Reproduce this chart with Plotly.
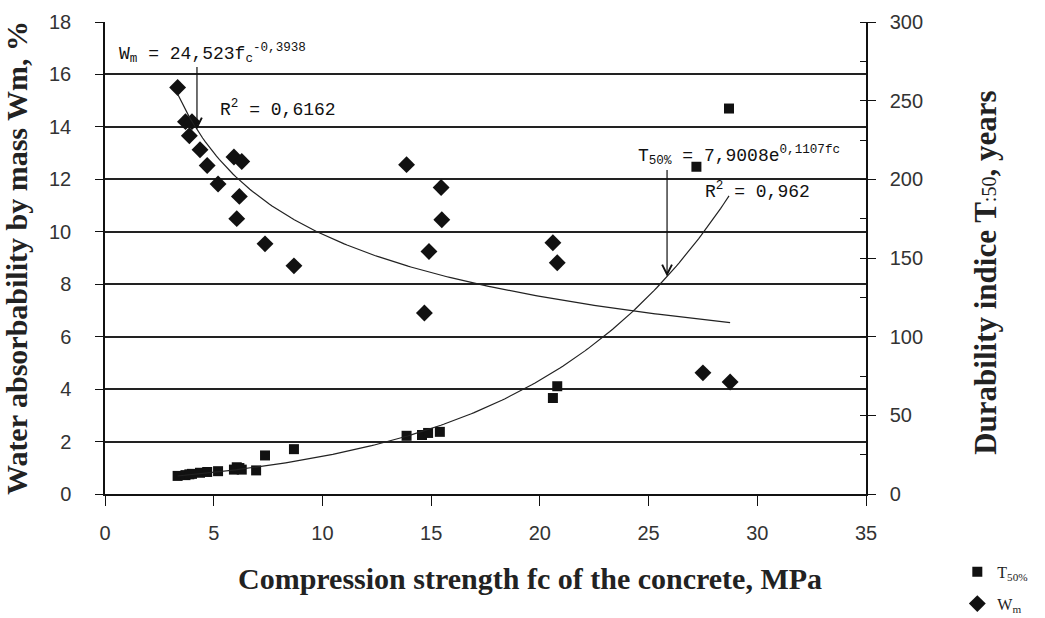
import numpy as np
import plotly.graph_objects as go

# ---------------- data ----------------
W_fc = [3.34, 3.70, 4.00, 3.88, 4.37, 4.70, 5.20, 5.93, 6.29, 6.18, 6.06,
        7.36, 8.69, 13.87, 15.46, 15.49, 14.90, 14.69, 20.60, 20.80, 27.50, 28.75]
W_val = [15.5, 14.2, 14.2, 13.66, 13.13, 12.53, 11.82, 12.85, 12.68, 11.35, 10.5,
         9.54, 8.70, 12.56, 11.69, 10.46, 9.25, 6.9, 9.58, 8.82, 4.62, 4.27]

T_fc = [3.34, 3.70, 3.88, 4.00, 4.37, 4.70, 5.20, 5.93, 6.06, 6.18, 6.29,
        6.95, 7.36, 8.69, 13.87, 14.58, 14.86, 15.40, 20.60, 20.80, 27.20, 28.70]
T_val = [11.5, 12.0, 12.5, 12.8, 13.5, 14.0, 14.5, 15.5, 17.0, 16.5, 15.5,
         15.0, 24.5, 28.5, 37.0, 37.5, 38.8, 39.5, 61.0, 68.5, 208.0, 245.0]

# trendline coefficients shown on the chart
W_a, W_b = 24.523, -0.3938      # power fit  W = a * fc^b
T_a, T_b = 7.9008, 0.1107       # exponential fit T = a * e^(b fc)
W_arrow_fc = 4.23
T_arrow_fc = 25.85

x_ticks = [0, 5, 10, 15, 20, 25, 30, 35]
y_left_ticks = [0, 2, 4, 6, 8, 10, 12, 14, 16, 18]
y_right_ticks = [0, 50, 100, 150, 200, 250, 300]

x_title = "<b>Compression strength fc of the concrete, MPa</b>"
y_title = "<b>Water absorbability by mass Wm, %</b>"
y2_title = "<b>Durability indice T</b><span style='font-size:20px'>:50</span><b>, years</b>"

# ---------------- figure ----------------
fc_line = np.linspace(min(W_fc), max(W_fc), 200)
W_fit = W_a * fc_line ** W_b
T_line = np.linspace(min(T_fc), max(T_fc), 200)
T_fit = T_a * np.exp(T_b * T_line)

fig = go.Figure()
fig.add_trace(go.Scatter(x=T_fc, y=T_val, mode="markers", yaxis="y2",
                         name="T<sub>50%</sub>", legendgroup="t",
                         marker=dict(symbol="square", size=10, color="#111111")))
fig.add_trace(go.Scatter(x=W_fc, y=W_val, mode="markers",
                         name="W<sub>m</sub>", legendgroup="w",
                         marker=dict(symbol="diamond", size=13, color="#111111")))
fig.add_trace(go.Scatter(x=fc_line, y=W_fit, mode="lines", showlegend=False,
                         line=dict(color="#222222", width=1.2)))
fig.add_trace(go.Scatter(x=T_line, y=T_fit, mode="lines", yaxis="y2", showlegend=False,
                         line=dict(color="#222222", width=1.2)))

serif = "Liberation Serif, Times New Roman, serif"
eq_font = dict(family="Liberation Mono, Courier New, monospace", size=18, color="#111111")
annotations = [
    dict(x=W_arrow_fc, y=W_a * W_arrow_fc ** W_b, xref="x", yref="y", text="",
         showarrow=True, arrowhead=5, arrowsize=1.6, arrowwidth=1.2, arrowcolor="#111111",
         ax=0, ay=-64),
    dict(x=T_arrow_fc, y=T_a * np.exp(T_b * T_arrow_fc), xref="x", yref="y2", text="",
         showarrow=True, arrowhead=5, arrowsize=1.6, arrowwidth=1.2, arrowcolor="#111111",
         ax=0, ay=-108),
    dict(x=0.55, y=16.8, xref="x", yref="y", xanchor="left", yanchor="middle", showarrow=False,
         text="W<sub>m</sub> = 24,523f<sub>c</sub><sup>-0,3938</sup>", font=eq_font),
    dict(x=5.2, y=14.7, xref="x", yref="y", xanchor="left", yanchor="middle", showarrow=False,
         text="R<sup>2</sup> = 0,6162", font=eq_font),
    dict(x=24.4, y=215, xref="x", yref="y2", xanchor="left", yanchor="middle", showarrow=False,
         text="T<sub>50%</sub> = 7,9008e<sup>0,1107fc</sup>", font=eq_font),
    dict(x=27.5, y=193, xref="x", yref="y2", xanchor="left", yanchor="middle", showarrow=False,
         text="R<sup>2</sup> = 0,962", font=eq_font),
    # axis titles placed as in the reference
    dict(x=0.558, y=-0.178, xref="paper", yref="paper", xanchor="center", yanchor="middle",
         showarrow=False, text=x_title, font=dict(family=serif, size=30, color="#222222")),
    dict(x=1.156, y=0.468, xref="paper", yref="paper", xanchor="center", yanchor="middle",
         showarrow=False, textangle=-90, text=y2_title,
         font=dict(family=serif, size=31, color="#222222")),
]

tick_font = dict(family="Liberation Sans, Arial, sans-serif", size=20, color="#333333")

fig.update_layout(
    width=1045, height=618,
    margin=dict(l=105, r=179, t=22, b=124, autoexpand=False),
    paper_bgcolor="white", plot_bgcolor="white",
    showlegend=True,
    legend=dict(x=1.12, y=-0.129, xanchor="left", yanchor="top",
                font=dict(family=serif, size=16, color="#222222"),
                tracegroupgap=8, itemwidth=30, bgcolor="rgba(0,0,0,0)"),
    annotations=annotations,
    xaxis=dict(range=[0, 35], tickvals=x_ticks, showgrid=False, zeroline=False,
               automargin=False,
               showline=True, linecolor="#111111", linewidth=1.5,
               ticks="outside", ticklen=10, tickwidth=1.3, tickcolor="#111111",
               tickfont=tick_font, ticklabelstandoff=10),
    yaxis=dict(range=[0, 18], tickvals=y_left_ticks, showgrid=True, gridcolor="#222222",
               gridwidth=1.5, zeroline=False, automargin=False,
               showline=True, linecolor="#111111", linewidth=1.5,
               ticks="outside", ticklen=8, tickwidth=1.3, tickcolor="#111111",
               tickfont=tick_font, ticklabelstandoff=20,
               title=dict(text=y_title,
                          font=dict(family=serif, size=30, color="#222222"), standoff=14)),
    yaxis2=dict(range=[0, 300], tickvals=y_right_ticks, overlaying="y", side="right",
                showgrid=False, zeroline=False, automargin=False,
                showline=True, linecolor="#111111", linewidth=1.5,
                ticks="outside", ticklen=8, tickwidth=1.3, tickcolor="#111111",
                tickfont=tick_font, ticklabelstandoff=10,
                minor=dict(dtick=25, ticks="inside", ticklen=6, tickcolor="#111111", tickwidth=1.2)),
)

fig.write_html("out.html", config={"displayModeBar": False},
               post_script="document.body.style.margin='0';document.body.style.overflow='hidden';")
